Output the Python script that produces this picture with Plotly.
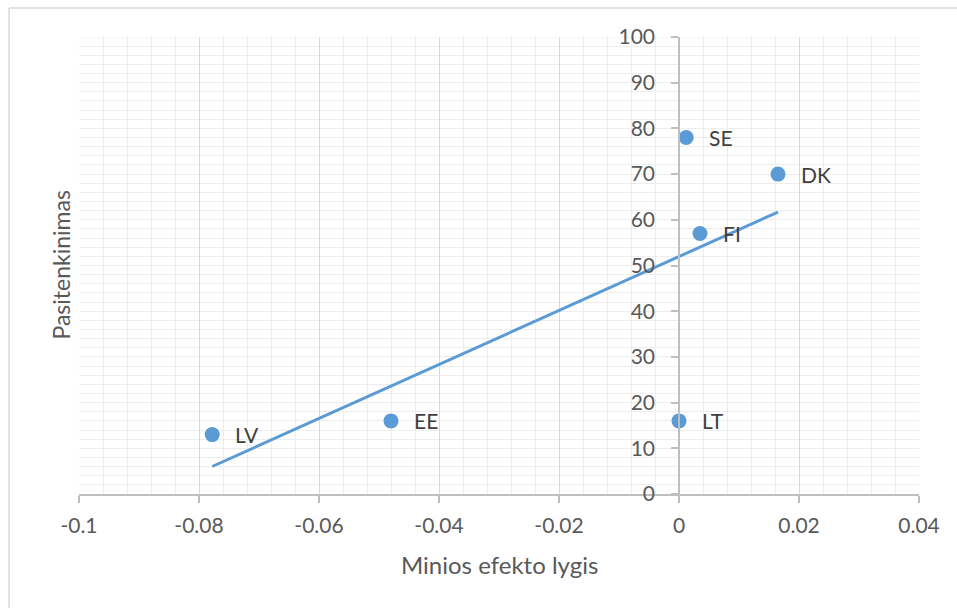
import numpy as np
import plotly.graph_objects as go

# Country codes with market-effect level (x) and satisfaction (y)
countries = ["SE", "DK", "FI", "LT", "EE", "LV"]
efekto_lygis = [0.0012, 0.0165, 0.0035, 0.0, -0.048, -0.0778]
pasitenkinimas = [78, 70, 57, 16, 16, 13]

x_tickvals = [-0.1, -0.08, -0.06, -0.04, -0.02, 0, 0.02, 0.04]
x_ticktext = ["-0.1", "-0.08", "-0.06", "-0.04", "-0.02", "0", "0.02", "0.04"]
y_tickvals = [0, 10, 20, 30, 40, 50, 60, 70, 80, 90, 100]

BLUE = "#5B9BD5"
TEXT = "#595959"
FONT = "Lato"

# Linear trendline fitted to the points
slope, intercept = np.polyfit(efekto_lygis, pasitenkinimas, 1)
trend_x = [min(efekto_lygis), max(efekto_lygis)]
trend_y = [slope * v + intercept for v in trend_x]

fig = go.Figure()
fig.add_trace(go.Scatter(
    x=efekto_lygis, y=pasitenkinimas, mode="markers",
    marker=dict(color=BLUE, size=15, line=dict(width=0)),
    showlegend=False, hoverinfo="skip",
))
fig.add_trace(go.Scatter(
    x=trend_x, y=trend_y, mode="lines",
    line=dict(color=BLUE, width=3),
    showlegend=False, hoverinfo="skip",
))

# Point labels to the right of each marker
for c, xv, yv in zip(countries, efekto_lygis, pasitenkinimas):
    fig.add_annotation(
        x=xv, y=yv, text=c, showarrow=False, xanchor="left", yanchor="middle",
        xshift=21, font=dict(family=FONT, size=21, color="#404040"),
    )

# Axis titles
fig.add_annotation(
    xref="paper", yref="paper", x=0.5, y=-0.155, text="Minios efekto lygis",
    showarrow=False, xanchor="center", yanchor="middle",
    font=dict(family=FONT, size=24, color=TEXT),
)
fig.add_annotation(
    xref="paper", yref="paper", x=-0.0226, y=0.5, text="Pasitenkinimas",
    showarrow=False, xanchor="center", yanchor="middle", textangle=-90,
    font=dict(family=FONT, size=23, color=TEXT),
)

# Faint line along the top of the plot area and the chart frame
fig.add_shape(type="line", xref="paper", yref="y", x0=0, x1=1, y0=100, y1=100,
              line=dict(color="#eeeeee", width=1), layer="below")
fig.add_shape(type="line", xref="paper", yref="paper", x0=-0.0833, x1=1.2,
              y0=1.0635, y1=1.0635, line=dict(color="#d9d9d9", width=1.5))
fig.add_shape(type="line", xref="paper", yref="paper", x0=-0.0833, x1=-0.0833,
              y0=-0.5, y1=1.0635, line=dict(color="#d9d9d9", width=1.5))

fig.update_xaxes(
    range=[-0.1, 0.04], tickvals=x_tickvals, ticktext=x_ticktext,
    showgrid=True, gridcolor="#d9d9d9", gridwidth=1,
    minor=dict(dtick=0.004, tick0=0, showgrid=True, gridcolor="#ededed", gridwidth=1),
    zeroline=False, showline=True, linecolor="#bfbfbf", linewidth=1.5,
    ticks="outside", ticklen=7, tickcolor="#bfbfbf", tickwidth=1.5,
    tickfont=dict(family=FONT, size=21, color=TEXT), ticklabelstandoff=5,
)
fig.update_yaxes(
    range=[0, 100], tickvals=y_tickvals, anchor="free", position=0.1 / 0.14,
    showgrid=False,
    minor=dict(dtick=2, tick0=0, showgrid=True, gridcolor="#ededed", gridwidth=1),
    zeroline=False, showline=True, linecolor="#bfbfbf", linewidth=1.5,
    ticks="outside", ticklen=7, tickcolor="#bfbfbf", tickwidth=1.5,
    tickfont=dict(family=FONT, size=21, color=TEXT), ticklabelstandoff=12,
)

fig.update_layout(
    width=957, height=608,
    margin=dict(l=79, r=38, t=37, b=114),
    paper_bgcolor="white", plot_bgcolor="white",
    font=dict(family=FONT, color=TEXT),
)

fig.write_html("out.html")
